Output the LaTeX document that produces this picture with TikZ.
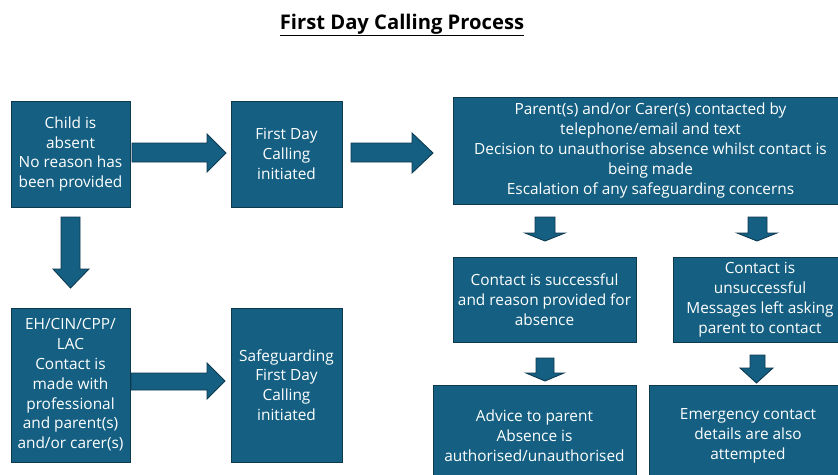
\documentclass[tikz,border=0pt]{standalone}
\usepackage{fontspec}
\setmainfont{Open Sans}
\definecolor{boxfill}{HTML}{156082}
\definecolor{boxline}{HTML}{0E3A50}
\tikzset{
  box/.style={draw=boxline, line width=0.9pt, fill=boxfill, text=white, align=center,
    font=\fontsize{15.4}{19.8}\selectfont, inner sep=0pt},
  blockarrow/.style={draw=boxline, line width=0.9pt, fill=boxfill, line join=miter}
}
\begin{document}
\begin{tikzpicture}[x=1pt,y=-1pt]
\useasboundingbox (0,0) rectangle (838,474);
\clip (0,0) rectangle (838,474);
% title
\node[font=\fontsize{20.2}{22}\selectfont\bfseries, inner sep=0pt] (title) at (402,25) {\underline{First Day Calling Process}};
% boxes
\node[box, minimum width=119pt, minimum height=106pt] (A) at (70.5,154) {Child is\\absent\\No reason has\\been provided};
\node[box, minimum width=111pt, minimum height=106pt] (B) at (286.5,154) {First Day\\Calling\\initiated};
\node[box, minimum width=395pt, minimum height=107pt] (C) at (650.5,150.5) {Parent(s) and/or Carer(s) contacted by\\telephone/email and text\\Decision to unauthorise absence whilst contact is\\being made\\Escalation of any safeguarding concerns};
\node[box, minimum width=183pt, minimum height=85pt] (D) at (544.5,299.5) {Contact is successful\\and reason provided for\\absence};
\node[box, minimum width=174pt, minimum height=85pt] (E) at (760,299.5) {Contact is\\unsuccessful\\Messages left asking\\parent to contact};
\node[box, minimum width=203pt, minimum height=102pt] (F) at (534.5,436) {Advice to parent\\Absence is\\authorised/unauthorised};
\node[box, minimum width=198pt, minimum height=102pt] (G) at (748,436) {Emergency contact\\details are also\\attempted};
\node[box, minimum width=119pt, minimum height=154pt] (H) at (70.5,385) {EH/CIN/CPP/\\LAC\\Contact is\\made with\\professional\\and parent(s)\\and/or carer(s)};
\node[box, minimum width=111pt, minimum height=154pt] (I) at (286.5,385) {Safeguarding\\First Day\\Calling\\initiated};
% block arrows
% A -> B
\draw[blockarrow] (132,143) -- (207,143) -- (207,134) -- (226,153) -- (207,172) -- (207,162) -- (132,162) -- cycle;
% B -> C
\draw[blockarrow] (351,143) -- (412,143) -- (412,133) -- (433,153) -- (412,173) -- (412,162) -- (351,162) -- cycle;
% A -> H
\draw[blockarrow] (61,217) -- (80,217) -- (80,269) -- (89,269) -- (70.5,288) -- (53,269) -- (61,269) -- cycle;
% H -> I
\draw[blockarrow] (131,373) -- (207,373) -- (207,363) -- (225,381) -- (207,399) -- (207,390) -- (131,390) -- cycle;
% C -> D
\draw[blockarrow] (535,217) -- (555,217) -- (555,233) -- (565,233) -- (545,241) -- (525,233) -- (535,233) -- cycle;
% C -> E
\draw[blockarrow] (748,217) -- (767,217) -- (767,233) -- (777,233) -- (757,241) -- (737,233) -- (748,233) -- cycle;
% D -> F
\draw[blockarrow] (536,358) -- (554,358) -- (554,373) -- (564,373) -- (545,381) -- (526,373) -- (536,373) -- cycle;
% E -> G
\draw[blockarrow] (750,355) -- (765,355) -- (765,368) -- (773,368) -- (756.5,383) -- (740,368) -- (750,368) -- cycle;
\end{tikzpicture}
\end{document}
